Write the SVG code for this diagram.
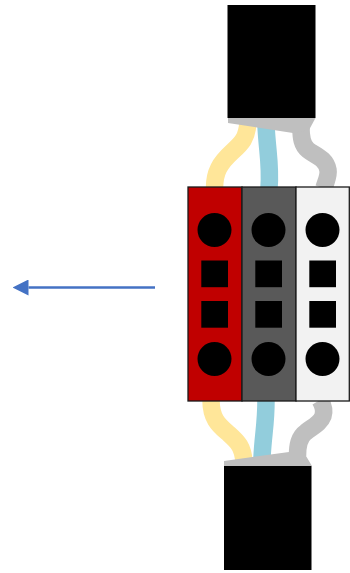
<svg xmlns="http://www.w3.org/2000/svg" width="350" height="573" viewBox="0 0 350 573">
<style>
.w{fill:none;stroke-width:17.5}
.g{fill:#bfbfbf}
.t{stroke:#1a1a1a;stroke-width:1.3}
.k{fill:#000}
</style>
<defs>
<marker id="ah" markerUnits="userSpaceOnUse" markerWidth="16" markerHeight="16" refX="0" refY="8" orient="auto"><path d="M0 0L16 8L0 16Z" fill="#4472c4"/></marker>
</defs>
<rect width="350" height="573" fill="#fff"/>
<g id="connectors">
<path class="w" stroke="#ffe699" d="M214.500 188C214.500 172 220 163 232 152C242 143 247 138 248 122"/>
<path class="w" stroke="#92cddc" d="M269 188C271 165 267 150 266 125"/>
<path class="w" stroke="#bfbfbf" d="M324 188C326 181 329 176 328 170C326 158 314 155 308 150C302 145 301 138 301 128"/>
<path class="w" stroke="#ffe699" d="M211 400C211 420 220 426 229 434C238 442 243 447 244 462"/>
<path class="w" stroke="#92cddc" d="M266 400C266 425 263 435 262 458"/>
<path class="w" stroke="#bfbfbf" d="M320 400C323 405 325 410 323 416C320 424 312 427 306 432C299 437 297.500 445 297.500 456"/>
<path d="M155 287.500H28.500" stroke="#4472c4" stroke-width="2.500" fill="none" marker-end="url(#ah)"/>
</g>
<g id="top-connector">
<path class="g" d="M228 118V123L293 133L309 130L315.500 118Z"/>
<rect class="k" x="227.500" y="5" width="88" height="113"/>
</g>
<g id="bottom-connector">
<path class="g" d="M224 466V461L289 452H306V456L312 466Z"/>
<rect class="k" x="224" y="466" width="87.500" height="104"/>
</g>
<g id="red-block">
<rect class="t" x="188" y="187" width="54" height="214" fill="#c00000"/>
<circle class="k" cx="214.500" cy="230" r="17"/><rect class="k" x="201.300" y="260.500" width="26.700" height="26.700"/><rect class="k" x="201.300" y="301" width="26.700" height="26.700"/><circle class="k" cx="214.500" cy="359" r="17"/>
</g>
<g id="grey-block">
<rect class="t" x="242" y="187" width="54" height="214" fill="#595959"/>
<circle class="k" cx="268.500" cy="230" r="17"/><rect class="k" x="255.300" y="260.500" width="26.700" height="26.700"/><rect class="k" x="255.300" y="301" width="26.700" height="26.700"/><circle class="k" cx="268.500" cy="359" r="17"/>
</g>
<g id="white-block">
<rect class="t" x="296" y="187" width="53.300" height="214" fill="#f2f2f2"/>
<circle class="k" cx="322.500" cy="230" r="17"/><rect class="k" x="309.300" y="260.500" width="26.700" height="26.700"/><rect class="k" x="309.300" y="301" width="26.700" height="26.700"/><circle class="k" cx="322.500" cy="359" r="17"/>
</g>
</svg>
